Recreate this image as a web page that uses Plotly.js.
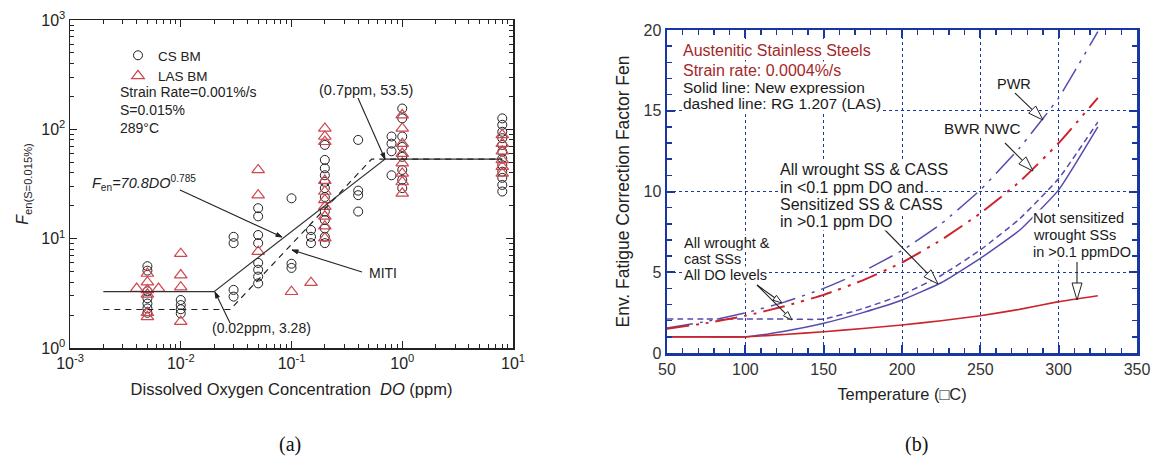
<!DOCTYPE html>
<html>
<head>
<meta charset="utf-8">
<script src="https://cdn.plot.ly/plotly-3.0.1.min.js"></script>
<style>html,body{margin:0;padding:0;background:#fff;}#chart{width:1157px;height:457px;}</style>
</head>
<body>
<div id="chart"></div>
<script>
// ---------- Panel (a) data ----------
const csDO = [0.005,0.005,0.005,0.005,0.005,0.005,0.005,
  0.01,0.01,0.01,0.01,
  0.03,0.03,0.03,0.03,
  0.05,0.05,0.05,0.05,0.05,0.05,0.05,0.05,
  0.1,0.1,0.1,
  0.15,0.15,0.15,
  0.2,0.2,0.2,0.2,0.2,0.2,0.2,0.2,0.2,0.2,0.2,0.2,
  0.4,0.4,0.4,0.4,
  0.8,0.8,0.8,0.8,
  1,1,1,1,1,1,1,1,
  8,8,8,8,8,8,8,8,8,8,8,8];
const csF = [5.6,5.1,3.3,2.85,2.55,2.3,2.1,
  2.75,2.47,2.26,2.07,
  10.4,9.1,3.4,2.95,
  19,16,10.8,9.1,6.0,5.2,4.5,3.9,
  23.4,5.9,5.4,
  12,10.4,9.1,
  72,52.5,44,38,33,29,24,17.7,14.8,12.4,10.4,9.1,
  80,27.5,25,17.7,
  86,74,63,38,
  155,126,86,69,56,42.5,34.5,29,
  126,110,95,83,72,62.5,54,47,41,36,31,27];
const lasDO = [0.004,0.0063,0.005,0.005,0.005,0.005,0.005,0.005,
  0.01,0.01,0.01,0.01,
  0.05,0.05,0.05,
  0.1,0.15,
  0.2,0.2,0.2,0.2,0.2,0.2,0.2,0.2,0.2,0.2,
  1,1,1,1,1,1,1,1,
  8,8,8,8,8,8];
const lasF = [3.5,3.5,4.8,4.0,3.4,3.1,2.1,1.93,
  7.3,4.65,3.6,1.74,
  42.5,25,7.6,
  3.27,3.96,
  102,86,77,34,27,22.6,19.6,16,13,10.1,
  135,102,74,60,49,39.5,33,26,
  89,74,63,52.5,45.5,39.5];
// fit lines (node points)
const fitDO = [0.002,0.02,0.7,8];
const fitF = [3.28,3.28,53.5,53.5];
const mitiDO = [0.002,0.028,0.53,8];
const mitiF = [2.25,2.25,53.5,53.5];
// tick labels panel (a)
const xTickVals = [0.001,0.01,0.1,1,10];
const xTickText = ['10<sup>-3</sup>','10<sup>-2</sup>','10<sup>-1</sup>','10<sup>0</sup>','10<sup>1</sup>'];
const yTickVals = [1,10,100,1000];
const yTickText = ['10<sup>0</sup>','10<sup>1</sup>','10<sup>2</sup>','10<sup>3</sup>'];

// ---------- Panel (b) data ----------
const temp = [50,75,100,125,150,175,200,225,250,275,300,325];
const notSensRed = [1.0,1.0,1.0,1.15,1.32,1.52,1.73,2.0,2.31,2.7,3.18,3.55];
const newBlue = [1.0,1.0,1.0,1.35,1.84,2.5,3.28,4.35,5.86,7.6,10.1,14.0];
const rgBlue = [2.1,2.1,2.1,2.1,2.1,2.75,3.6,4.8,6.38,8.3,10.8,14.3];
const pwrBlue = [1.55,1.95,2.48,3.15,4.0,5.05,6.35,8.0,10.1,12.7,15.8,19.9];
const bwrRed = [1.5,1.85,2.3,2.9,3.6,4.5,5.6,7.0,8.65,10.6,13.0,15.8];

const W = 1157, H = 457;
const px = v => v / W;
const py = v => 1 - v / H;

const AX = 'rgb(25,55,160)';
const BL = 'rgb(85,75,175)';
const RD = 'rgb(205,35,45)';
const TRI = 'rgb(205,70,80)';

function minorLog(d0, d1) {
  const out = [];
  for (let d = d0; d < d1; d++) for (let k = 2; k <= 9; k++) out.push(k * Math.pow(10, d));
  return out;
}

const traces = [
  {x: csDO, y: csF, type: 'scatter', mode: 'markers', name: 'CS BM', xaxis: 'x', yaxis: 'y',
   marker: {symbol: 'circle-open', size: 9, color: '#222', line: {width: 1}}},
  {x: lasDO, y: lasF, type: 'scatter', mode: 'markers', name: 'LAS BM', xaxis: 'x', yaxis: 'y',
   marker: {symbol: 'triangle-up-open', size: 11, color: TRI, line: {width: 1.2}}},
  {x: fitDO, y: fitF, type: 'scatter', mode: 'lines', showlegend: false, xaxis: 'x', yaxis: 'y',
   line: {color: '#333', width: 1.2}},
  {x: mitiDO, y: mitiF, type: 'scatter', mode: 'lines', showlegend: false, xaxis: 'x', yaxis: 'y',
   line: {color: '#222', width: 1.2, dash: '6px,5px'}},
  // panel b
  {x: temp, y: newBlue, type: 'scatter', mode: 'lines', showlegend: false, xaxis: 'x2', yaxis: 'y2',
   line: {color: BL, width: 1.5, shape: 'spline', smoothing: 0.4}},
  {x: temp, y: rgBlue, type: 'scatter', mode: 'lines', showlegend: false, xaxis: 'x2', yaxis: 'y2',
   line: {color: BL, width: 1.5, dash: '6px,4px', shape: 'spline', smoothing: 0.4}},
  {x: temp, y: pwrBlue, type: 'scatter', mode: 'lines', showlegend: false, xaxis: 'x2', yaxis: 'y2',
   line: {color: BL, width: 1.5, dash: '26px,7px,3px,7px,3px,7px', shape: 'spline', smoothing: 0.4}},
  {x: temp, y: bwrRed, type: 'scatter', mode: 'lines', showlegend: false, xaxis: 'x2', yaxis: 'y2',
   line: {color: RD, width: 2, dash: '22px,7px,3px,7px,3px,7px', shape: 'spline', smoothing: 0.4}},
  {x: temp, y: notSensRed, type: 'scatter', mode: 'lines', showlegend: false, xaxis: 'x2', yaxis: 'y2',
   line: {color: RD, width: 1.6, shape: 'spline', smoothing: 0.4}}
];

const FAM = 'Liberation Sans, Arial, sans-serif';
const aFont = {family: FAM, size: 14, color: '#222'};
const f = (size, color) => ({family: FAM, size: size, color: color || '#1a1a1a'});

function label(x, y, text, font, bg) {
  const a = {xref: 'paper', yref: 'paper', x: px(x), y: py(y), text: text,
    showarrow: false, xanchor: 'left', yanchor: 'middle', align: 'left', font: font};
  if (bg) { a.bgcolor = '#fff'; a.borderpad = 0; }
  return a;
}

// arrows drawn as shapes (pixel tail -> pixel head)
const shapes = [];
function arrow(tx, ty, hx, hy, len, wid, open) {
  const dx = hx - tx, dy = hy - ty, d = Math.hypot(dx, dy);
  const ux = dx / d, uy = dy / d, nx = -uy, ny = ux;
  const bx = hx - ux * len, by = hy - uy * len;
  const endx = open ? bx : hx, endy = open ? by : hy;
  shapes.push({type: 'line', xref: 'paper', yref: 'paper', x0: px(tx), y0: py(ty), x1: px(endx), y1: py(endy),
    line: {color: '#222', width: 1.1}});
  const p1x = bx + nx * wid / 2, p1y = by + ny * wid / 2, p2x = bx - nx * wid / 2, p2y = by - ny * wid / 2;
  shapes.push({type: 'path', xref: 'paper', yref: 'paper',
    path: `M ${px(hx)},${py(hy)} L ${px(p1x)},${py(p1y)} L ${px(p2x)},${py(p2y)} Z`,
    fillcolor: open ? '#fff' : '#222', line: {color: '#222', width: 1}});
}
// panel a
arrow(358, 98, 385, 159, 6, 4, false);
arrow(180, 190, 282, 237, 6, 4, false);
arrow(362, 272, 292, 250, 6, 4, false);
arrow(230, 323, 215, 292, 6, 4, false);
// panel b
arrow(1015, 93, 1043, 120, 15, 10, true);
arrow(1005, 143, 1033, 171, 15, 10, true);
arrow(883, 228, 938, 284, 15, 10, true);
arrow(1077, 262, 1077, 300, 17, 10, true);
arrow(757, 285, 782, 303, 9, 6, true);
arrow(757, 285, 792, 320, 9, 6, true);

const annotations = [
  // panel a texts
  label(118, 92, 'Strain Rate=0.001%/s', aFont),
  label(118, 110, 'S=0.015%', aFont),
  label(118, 128, '289°C', aFont),
  label(317, 90, '(0.7ppm, 53.5)', f(14.5, '#222')),
  label(90, 183, '<i>F</i><sub>en</sub><i>=70.8DO</i><sup>0.785</sup>', f(14.5, '#222')),
  label(367, 273, 'MITI', aFont),
  label(210, 328, '(0.02ppm, 3.28)', aFont),
  // sublabels
  {xref: 'paper', yref: 'paper', x: px(290), y: py(444), text: '(a)', showarrow: false,
   xanchor: 'center', yanchor: 'middle', font: {family: 'Liberation Serif, Times New Roman, serif', size: 20, color: '#111'}},
  {xref: 'paper', yref: 'paper', x: px(916), y: py(444), text: '(b)', showarrow: false,
   xanchor: 'center', yanchor: 'middle', font: {family: 'Liberation Serif, Times New Roman, serif', size: 20, color: '#111'}},
  // panel b texts
  label(682, 51, 'Austenitic Stainless Steels', f(16, 'rgb(165,40,40)'), true),
  label(682, 70, 'Strain rate: 0.0004%/s', f(16, 'rgb(165,40,40)'), true),
  label(682, 88, 'Solid line: New expression', f(15.5), true),
  label(682, 103.5, 'dashed line: RG 1.207 (LAS)', f(15.5), true),
  label(996, 84, 'PWR', f(14.5), true),
  label(943, 129, 'BWR NWC', f(15.3), true),
  label(779, 170, 'All wrought SS &amp; CASS', f(16), true),
  label(779, 187.5, 'in &lt;0.1 ppm DO and', f(16), true),
  label(779, 204.5, 'Sensitized SS &amp; CASS', f(16), true),
  label(779, 221.5, 'in &gt;0.1 ppm DO', f(16), true),
  label(683, 242.5, 'All wrought &amp;', f(14.5), true),
  label(683, 258.5, 'cast SSs', f(14.5), true),
  label(683, 275, 'All DO levels', f(14.5), true),
  label(1032, 218, 'Not sensitized', f(14.5), true),
  label(1032, 235, 'wrought SSs', f(14.5), true),
  label(1032, 252, 'in &gt;0.1 ppmDO', f(14.5), true)
];

const layout = {
  width: W, height: H,
  margin: {l: 0, r: 0, t: 0, b: 0},
  paper_bgcolor: '#fff', plot_bgcolor: '#fff',
  font: {family: FAM, color: '#222'},
  showlegend: true,
  legend: {x: px(118), y: py(40), xanchor: 'left', yanchor: 'top', bgcolor: 'rgba(0,0,0,0)',
    font: {family: FAM, size: 13.5, color: '#222'}, tracegroupgap: 0, itemwidth: 30},
  xaxis: {
    domain: [px(70), px(513)], anchor: 'y', type: 'log', range: [-3, 1],
    tickmode: 'array', tickvals: xTickVals, ticktext: xTickText,
    showline: true, linecolor: '#222', linewidth: 1.5, mirror: 'allticks',
    ticks: 'inside', ticklen: 7, tickwidth: 1.2, tickcolor: '#222',
    minor: {tickmode: 'array', tickvals: minorLog(-3, 1), ticks: 'inside', ticklen: 4, tickwidth: 1, tickcolor: '#222', showgrid: false},
    showgrid: false, zeroline: false,
    tickfont: {size: 16, color: '#222'},
    title: {text: 'Dissolved Oxygen Concentration  <i>DO</i> (ppm)', font: {size: 16.5, color: '#222'}, standoff: 12}
  },
  yaxis: {
    domain: [py(348), py(20)], anchor: 'x', type: 'log', range: [0, 3],
    tickmode: 'array', tickvals: yTickVals, ticktext: yTickText,
    showline: true, linecolor: '#222', linewidth: 1.5, mirror: 'allticks',
    ticks: 'inside', ticklen: 7, tickwidth: 1.2, tickcolor: '#222',
    minor: {tickmode: 'array', tickvals: minorLog(0, 3), ticks: 'inside', ticklen: 4, tickwidth: 1, tickcolor: '#222', showgrid: false},
    showgrid: false, zeroline: false,
    tickfont: {size: 16, color: '#222'},
    title: {text: '<i>F</i><sub>en(S=0.015%)</sub>', font: {size: 16, color: '#222'}, standoff: 8}
  },
  xaxis2: {
    domain: [px(667), px(1137)], anchor: 'y2', range: [50, 350], dtick: 50,
    showline: true, linecolor: AX, linewidth: 2.5, mirror: 'allticks',
    ticks: 'inside', ticklen: 8, tickwidth: 2, tickcolor: AX,
    minor: {dtick: 10, ticks: 'inside', ticklen: 5, tickwidth: 1.5, tickcolor: AX, showgrid: false},
    showgrid: true, gridcolor: AX, griddash: 'dot', gridwidth: 1, zeroline: false,
    tickfont: {size: 16, color: '#333'},
    title: {text: 'Temperature (\u25A1C)', font: {size: 16.4, color: '#222'}, standoff: 12}
  },
  yaxis2: {
    domain: [py(353), py(30)], anchor: 'x2', range: [0, 20], dtick: 5,
    showline: true, linecolor: AX, linewidth: 2.5, mirror: 'allticks',
    ticks: 'inside', ticklen: 8, tickwidth: 2, tickcolor: AX,
    minor: {dtick: 1, ticks: 'inside', ticklen: 5, tickwidth: 1.5, tickcolor: AX, showgrid: false},
    showgrid: true, gridcolor: AX, griddash: 'dot', gridwidth: 1, zeroline: false,
    tickfont: {size: 16, color: '#333'},
    title: {text: 'Env. Fatigue Correction Factor Fen', font: {size: 17.5, color: '#222'}, standoff: 10}
  },
  shapes: shapes,
  annotations: annotations
};

Plotly.newPlot('chart', traces, layout, {displayModeBar: false, staticPlot: true});
</script>
</body>
</html>
